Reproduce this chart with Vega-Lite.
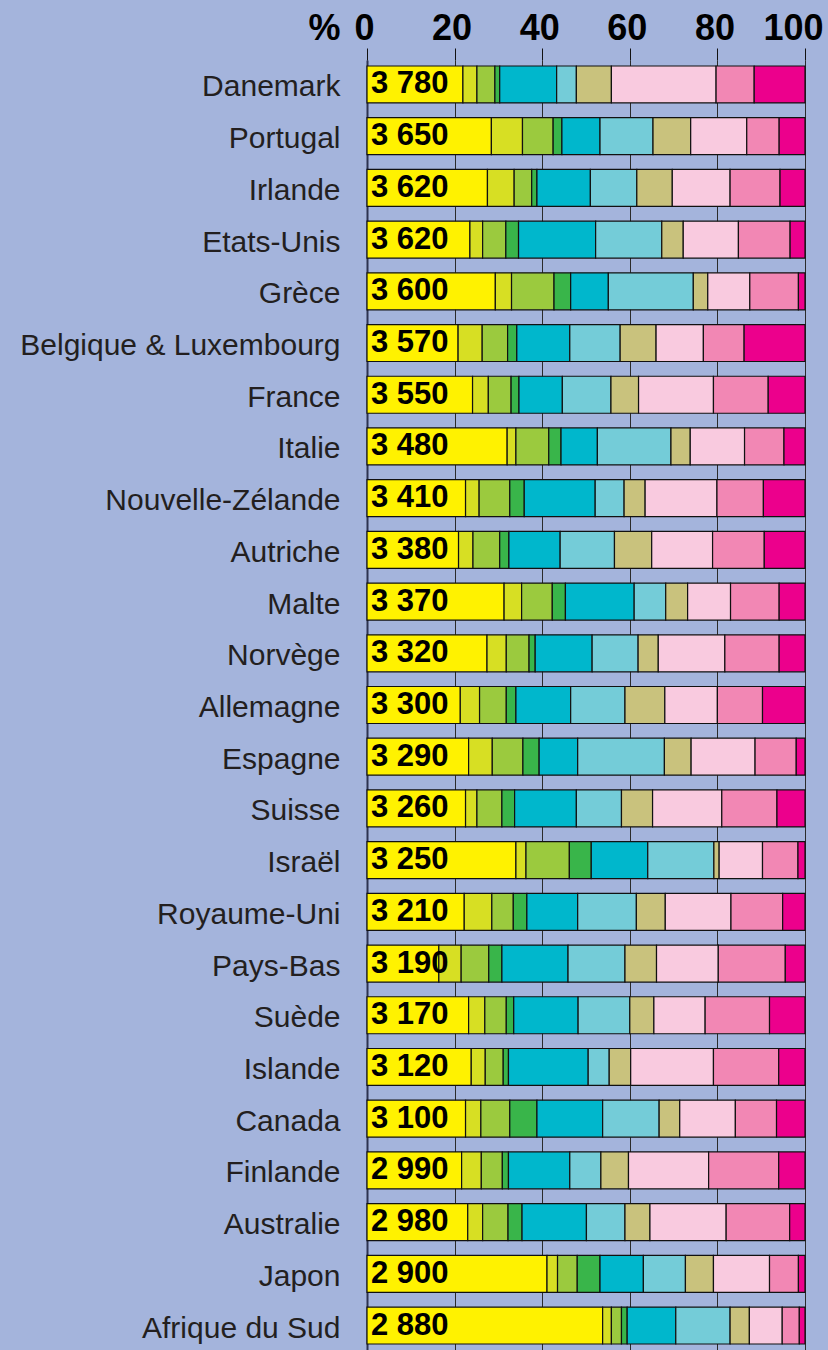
{
  "$schema": "https://vega.github.io/schema/vega-lite/v6.json",
  "width": 438,
  "height": 1290,
  "autosize": {"type": "none"},
  "padding": {"left": 367, "top": 60, "right": 23, "bottom": 0},
  "background": "#a4b4dc",
  "datasets": {
    "seg": [
      {"pays":"Danemark","groupe":"g01","part":21.9},{"pays":"Danemark","groupe":"g02","part":3.2},{"pays":"Danemark","groupe":"g03","part":4.1},{"pays":"Danemark","groupe":"g04","part":1.1},{"pays":"Danemark","groupe":"g05","part":13.0},{"pays":"Danemark","groupe":"g06","part":4.5},{"pays":"Danemark","groupe":"g07","part":8.0},{"pays":"Danemark","groupe":"g08","part":23.9},{"pays":"Danemark","groupe":"g09","part":8.7},{"pays":"Danemark","groupe":"g10","part":11.6},
      {"pays":"Portugal","groupe":"g01","part":28.4},{"pays":"Portugal","groupe":"g02","part":7.1},{"pays":"Portugal","groupe":"g03","part":7.0},{"pays":"Portugal","groupe":"g04","part":2.0},{"pays":"Portugal","groupe":"g05","part":8.7},{"pays":"Portugal","groupe":"g06","part":12.1},{"pays":"Portugal","groupe":"g07","part":8.6},{"pays":"Portugal","groupe":"g08","part":12.8},{"pays":"Portugal","groupe":"g09","part":7.4},{"pays":"Portugal","groupe":"g10","part":5.9},
      {"pays":"Irlande","groupe":"g01","part":27.5},{"pays":"Irlande","groupe":"g02","part":6.1},{"pays":"Irlande","groupe":"g03","part":4.0},{"pays":"Irlande","groupe":"g04","part":1.2},{"pays":"Irlande","groupe":"g05","part":12.2},{"pays":"Irlande","groupe":"g06","part":10.6},{"pays":"Irlande","groupe":"g07","part":8.1},{"pays":"Irlande","groupe":"g08","part":13.2},{"pays":"Irlande","groupe":"g09","part":11.4},{"pays":"Irlande","groupe":"g10","part":5.7},
      {"pays":"Etats-Unis","groupe":"g01","part":23.5},{"pays":"Etats-Unis","groupe":"g02","part":2.9},{"pays":"Etats-Unis","groupe":"g03","part":5.3},{"pays":"Etats-Unis","groupe":"g04","part":2.9},{"pays":"Etats-Unis","groupe":"g05","part":17.6},{"pays":"Etats-Unis","groupe":"g06","part":15.1},{"pays":"Etats-Unis","groupe":"g07","part":4.9},{"pays":"Etats-Unis","groupe":"g08","part":12.6},{"pays":"Etats-Unis","groupe":"g09","part":11.8},{"pays":"Etats-Unis","groupe":"g10","part":3.4},
      {"pays":"Grèce","groupe":"g01","part":29.3},{"pays":"Grèce","groupe":"g02","part":3.7},{"pays":"Grèce","groupe":"g03","part":9.7},{"pays":"Grèce","groupe":"g04","part":3.8},{"pays":"Grèce","groupe":"g05","part":8.6},{"pays":"Grèce","groupe":"g06","part":19.4},{"pays":"Grèce","groupe":"g07","part":3.3},{"pays":"Grèce","groupe":"g08","part":9.6},{"pays":"Grèce","groupe":"g09","part":11.1},{"pays":"Grèce","groupe":"g10","part":1.5},
      {"pays":"Belgique & Luxembourg","groupe":"g01","part":20.8},{"pays":"Belgique & Luxembourg","groupe":"g02","part":5.5},{"pays":"Belgique & Luxembourg","groupe":"g03","part":5.8},{"pays":"Belgique & Luxembourg","groupe":"g04","part":2.1},{"pays":"Belgique & Luxembourg","groupe":"g05","part":12.1},{"pays":"Belgique & Luxembourg","groupe":"g06","part":11.5},{"pays":"Belgique & Luxembourg","groupe":"g07","part":8.2},{"pays":"Belgique & Luxembourg","groupe":"g08","part":10.8},{"pays":"Belgique & Luxembourg","groupe":"g09","part":9.3},{"pays":"Belgique & Luxembourg","groupe":"g10","part":13.9},
      {"pays":"France","groupe":"g01","part":24.1},{"pays":"France","groupe":"g02","part":3.6},{"pays":"France","groupe":"g03","part":5.2},{"pays":"France","groupe":"g04","part":1.8},{"pays":"France","groupe":"g05","part":9.9},{"pays":"France","groupe":"g06","part":11.1},{"pays":"France","groupe":"g07","part":6.3},{"pays":"France","groupe":"g08","part":17.1},{"pays":"France","groupe":"g09","part":12.5},{"pays":"France","groupe":"g10","part":8.4},
      {"pays":"Italie","groupe":"g01","part":32.0},{"pays":"Italie","groupe":"g02","part":2.0},{"pays":"Italie","groupe":"g03","part":7.5},{"pays":"Italie","groupe":"g04","part":2.8},{"pays":"Italie","groupe":"g05","part":8.3},{"pays":"Italie","groupe":"g06","part":16.8},{"pays":"Italie","groupe":"g07","part":4.4},{"pays":"Italie","groupe":"g08","part":12.4},{"pays":"Italie","groupe":"g09","part":9.0},{"pays":"Italie","groupe":"g10","part":4.8},
      {"pays":"Nouvelle-Zélande","groupe":"g01","part":22.5},{"pays":"Nouvelle-Zélande","groupe":"g02","part":3.1},{"pays":"Nouvelle-Zélande","groupe":"g03","part":7.0},{"pays":"Nouvelle-Zélande","groupe":"g04","part":3.3},{"pays":"Nouvelle-Zélande","groupe":"g05","part":16.2},{"pays":"Nouvelle-Zélande","groupe":"g06","part":6.6},{"pays":"Nouvelle-Zélande","groupe":"g07","part":4.8},{"pays":"Nouvelle-Zélande","groupe":"g08","part":16.4},{"pays":"Nouvelle-Zélande","groupe":"g09","part":10.6},{"pays":"Nouvelle-Zélande","groupe":"g10","part":9.5},
      {"pays":"Autriche","groupe":"g01","part":20.9},{"pays":"Autriche","groupe":"g02","part":3.3},{"pays":"Autriche","groupe":"g03","part":6.1},{"pays":"Autriche","groupe":"g04","part":2.1},{"pays":"Autriche","groupe":"g05","part":11.7},{"pays":"Autriche","groupe":"g06","part":12.4},{"pays":"Autriche","groupe":"g07","part":8.5},{"pays":"Autriche","groupe":"g08","part":13.9},{"pays":"Autriche","groupe":"g09","part":11.8},{"pays":"Autriche","groupe":"g10","part":9.3},
      {"pays":"Malte","groupe":"g01","part":31.3},{"pays":"Malte","groupe":"g02","part":4.0},{"pays":"Malte","groupe":"g03","part":7.0},{"pays":"Malte","groupe":"g04","part":3.0},{"pays":"Malte","groupe":"g05","part":15.7},{"pays":"Malte","groupe":"g06","part":7.2},{"pays":"Malte","groupe":"g07","part":5.0},{"pays":"Malte","groupe":"g08","part":9.8},{"pays":"Malte","groupe":"g09","part":11.1},{"pays":"Malte","groupe":"g10","part":5.9},
      {"pays":"Norvège","groupe":"g01","part":27.4},{"pays":"Norvège","groupe":"g02","part":4.4},{"pays":"Norvège","groupe":"g03","part":5.2},{"pays":"Norvège","groupe":"g04","part":1.4},{"pays":"Norvège","groupe":"g05","part":13.0},{"pays":"Norvège","groupe":"g06","part":10.5},{"pays":"Norvège","groupe":"g07","part":4.6},{"pays":"Norvège","groupe":"g08","part":15.2},{"pays":"Norvège","groupe":"g09","part":12.4},{"pays":"Norvège","groupe":"g10","part":5.9},
      {"pays":"Allemagne","groupe":"g01","part":21.3},{"pays":"Allemagne","groupe":"g02","part":4.4},{"pays":"Allemagne","groupe":"g03","part":6.1},{"pays":"Allemagne","groupe":"g04","part":2.2},{"pays":"Allemagne","groupe":"g05","part":12.5},{"pays":"Allemagne","groupe":"g06","part":12.4},{"pays":"Allemagne","groupe":"g07","part":9.1},{"pays":"Allemagne","groupe":"g08","part":12.0},{"pays":"Allemagne","groupe":"g09","part":10.3},{"pays":"Allemagne","groupe":"g10","part":9.7},
      {"pays":"Espagne","groupe":"g01","part":23.2},{"pays":"Espagne","groupe":"g02","part":5.4},{"pays":"Espagne","groupe":"g03","part":7.0},{"pays":"Espagne","groupe":"g04","part":3.7},{"pays":"Espagne","groupe":"g05","part":8.8},{"pays":"Espagne","groupe":"g06","part":19.8},{"pays":"Espagne","groupe":"g07","part":6.1},{"pays":"Espagne","groupe":"g08","part":14.6},{"pays":"Espagne","groupe":"g09","part":9.4},{"pays":"Espagne","groupe":"g10","part":2.0},
      {"pays":"Suisse","groupe":"g01","part":22.5},{"pays":"Suisse","groupe":"g02","part":2.6},{"pays":"Suisse","groupe":"g03","part":5.7},{"pays":"Suisse","groupe":"g04","part":2.9},{"pays":"Suisse","groupe":"g05","part":14.1},{"pays":"Suisse","groupe":"g06","part":10.3},{"pays":"Suisse","groupe":"g07","part":7.1},{"pays":"Suisse","groupe":"g08","part":15.8},{"pays":"Suisse","groupe":"g09","part":12.6},{"pays":"Suisse","groupe":"g10","part":6.4},
      {"pays":"Israël","groupe":"g01","part":34.0},{"pays":"Israël","groupe":"g02","part":2.3},{"pays":"Israël","groupe":"g03","part":9.9},{"pays":"Israël","groupe":"g04","part":5.0},{"pays":"Israël","groupe":"g05","part":12.9},{"pays":"Israël","groupe":"g06","part":15.1},{"pays":"Israël","groupe":"g07","part":1.2},{"pays":"Israël","groupe":"g08","part":9.9},{"pays":"Israël","groupe":"g09","part":8.1},{"pays":"Israël","groupe":"g10","part":1.6},
      {"pays":"Royaume-Uni","groupe":"g01","part":22.2},{"pays":"Royaume-Uni","groupe":"g02","part":6.3},{"pays":"Royaume-Uni","groupe":"g03","part":4.9},{"pays":"Royaume-Uni","groupe":"g04","part":3.1},{"pays":"Royaume-Uni","groupe":"g05","part":11.6},{"pays":"Royaume-Uni","groupe":"g06","part":13.4},{"pays":"Royaume-Uni","groupe":"g07","part":6.6},{"pays":"Royaume-Uni","groupe":"g08","part":15.0},{"pays":"Royaume-Uni","groupe":"g09","part":11.8},{"pays":"Royaume-Uni","groupe":"g10","part":5.1},
      {"pays":"Pays-Bas","groupe":"g01","part":16.4},{"pays":"Pays-Bas","groupe":"g02","part":5.1},{"pays":"Pays-Bas","groupe":"g03","part":6.3},{"pays":"Pays-Bas","groupe":"g04","part":3.0},{"pays":"Pays-Bas","groupe":"g05","part":15.1},{"pays":"Pays-Bas","groupe":"g06","part":13.0},{"pays":"Pays-Bas","groupe":"g07","part":7.2},{"pays":"Pays-Bas","groupe":"g08","part":14.1},{"pays":"Pays-Bas","groupe":"g09","part":15.3},{"pays":"Pays-Bas","groupe":"g10","part":4.5},
      {"pays":"Suède","groupe":"g01","part":23.2},{"pays":"Suède","groupe":"g02","part":3.7},{"pays":"Suède","groupe":"g03","part":4.9},{"pays":"Suède","groupe":"g04","part":1.7},{"pays":"Suède","groupe":"g05","part":14.7},{"pays":"Suède","groupe":"g06","part":11.8},{"pays":"Suède","groupe":"g07","part":5.5},{"pays":"Suède","groupe":"g08","part":11.7},{"pays":"Suède","groupe":"g09","part":14.7},{"pays":"Suède","groupe":"g10","part":8.1},
      {"pays":"Islande","groupe":"g01","part":23.8},{"pays":"Islande","groupe":"g02","part":3.2},{"pays":"Islande","groupe":"g03","part":4.1},{"pays":"Islande","groupe":"g04","part":1.2},{"pays":"Islande","groupe":"g05","part":18.2},{"pays":"Islande","groupe":"g06","part":4.8},{"pays":"Islande","groupe":"g07","part":4.9},{"pays":"Islande","groupe":"g08","part":18.9},{"pays":"Islande","groupe":"g09","part":14.9},{"pays":"Islande","groupe":"g10","part":6.0},
      {"pays":"Canada","groupe":"g01","part":22.5},{"pays":"Canada","groupe":"g02","part":3.5},{"pays":"Canada","groupe":"g03","part":6.6},{"pays":"Canada","groupe":"g04","part":6.2},{"pays":"Canada","groupe":"g05","part":15.0},{"pays":"Canada","groupe":"g06","part":12.9},{"pays":"Canada","groupe":"g07","part":4.7},{"pays":"Canada","groupe":"g08","part":12.7},{"pays":"Canada","groupe":"g09","part":9.4},{"pays":"Canada","groupe":"g10","part":6.5},
      {"pays":"Finlande","groupe":"g01","part":21.6},{"pays":"Finlande","groupe":"g02","part":4.5},{"pays":"Finlande","groupe":"g03","part":4.8},{"pays":"Finlande","groupe":"g04","part":1.4},{"pays":"Finlande","groupe":"g05","part":14.0},{"pays":"Finlande","groupe":"g06","part":7.1},{"pays":"Finlande","groupe":"g07","part":6.3},{"pays":"Finlande","groupe":"g08","part":18.3},{"pays":"Finlande","groupe":"g09","part":16.0},{"pays":"Finlande","groupe":"g10","part":6.0},
      {"pays":"Australie","groupe":"g01","part":23.0},{"pays":"Australie","groupe":"g02","part":3.4},{"pays":"Australie","groupe":"g03","part":5.8},{"pays":"Australie","groupe":"g04","part":3.2},{"pays":"Australie","groupe":"g05","part":14.7},{"pays":"Australie","groupe":"g06","part":8.8},{"pays":"Australie","groupe":"g07","part":5.7},{"pays":"Australie","groupe":"g08","part":17.4},{"pays":"Australie","groupe":"g09","part":14.5},{"pays":"Australie","groupe":"g10","part":3.5},
      {"pays":"Japon","groupe":"g01","part":41.1},{"pays":"Japon","groupe":"g02","part":2.4},{"pays":"Japon","groupe":"g03","part":4.5},{"pays":"Japon","groupe":"g04","part":5.2},{"pays":"Japon","groupe":"g05","part":9.9},{"pays":"Japon","groupe":"g06","part":9.6},{"pays":"Japon","groupe":"g07","part":6.4},{"pays":"Japon","groupe":"g08","part":12.8},{"pays":"Japon","groupe":"g09","part":6.6},{"pays":"Japon","groupe":"g10","part":1.5},
      {"pays":"Afrique du Sud","groupe":"g01","part":53.8},{"pays":"Afrique du Sud","groupe":"g02","part":2.0},{"pays":"Afrique du Sud","groupe":"g03","part":2.3},{"pays":"Afrique du Sud","groupe":"g04","part":1.3},{"pays":"Afrique du Sud","groupe":"g05","part":11.1},{"pays":"Afrique du Sud","groupe":"g06","part":12.4},{"pays":"Afrique du Sud","groupe":"g07","part":4.4},{"pays":"Afrique du Sud","groupe":"g08","part":7.5},{"pays":"Afrique du Sud","groupe":"g09","part":3.9},{"pays":"Afrique du Sud","groupe":"g10","part":1.3}
    ],
    "totaux": [
      {"pays":"Danemark","kcal":"3 780"},
      {"pays":"Portugal","kcal":"3 650"},
      {"pays":"Irlande","kcal":"3 620"},
      {"pays":"Etats-Unis","kcal":"3 620"},
      {"pays":"Grèce","kcal":"3 600"},
      {"pays":"Belgique & Luxembourg","kcal":"3 570"},
      {"pays":"France","kcal":"3 550"},
      {"pays":"Italie","kcal":"3 480"},
      {"pays":"Nouvelle-Zélande","kcal":"3 410"},
      {"pays":"Autriche","kcal":"3 380"},
      {"pays":"Malte","kcal":"3 370"},
      {"pays":"Norvège","kcal":"3 320"},
      {"pays":"Allemagne","kcal":"3 300"},
      {"pays":"Espagne","kcal":"3 290"},
      {"pays":"Suisse","kcal":"3 260"},
      {"pays":"Israël","kcal":"3 250"},
      {"pays":"Royaume-Uni","kcal":"3 210"},
      {"pays":"Pays-Bas","kcal":"3 190"},
      {"pays":"Suède","kcal":"3 170"},
      {"pays":"Islande","kcal":"3 120"},
      {"pays":"Canada","kcal":"3 100"},
      {"pays":"Finlande","kcal":"2 990"},
      {"pays":"Australie","kcal":"2 980"},
      {"pays":"Japon","kcal":"2 900"},
      {"pays":"Afrique du Sud","kcal":"2 880"}
    ]
  },
  "encoding": {
    "y": {
      "field": "pays",
      "type": "nominal",
      "sort": ["Danemark","Portugal","Irlande","Etats-Unis","Grèce","Belgique & Luxembourg","France","Italie","Nouvelle-Zélande","Autriche","Malte","Norvège","Allemagne","Espagne","Suisse","Israël","Royaume-Uni","Pays-Bas","Suède","Islande","Canada","Finlande","Australie","Japon","Afrique du Sud"],
      "scale": {"paddingInner": 0.285, "paddingOuter": 0.116},
      "axis": {
        "title": null,
        "ticks": false,
        "tickSize": 0,
        "domain": true,
        "domainColor": "#2d3350",
        "domainWidth": 2,
        "labelFont": "Liberation Sans",
        "labelFontSize": 30,
        "labelColor": "#231f20",
        "labelPadding": 27,
        "labelOffset": 3,
        "labelLimit": 400
      }
    }
  },
  "layer": [
    {
      "data": {"name": "seg"},
      "mark": {"type": "bar", "stroke": "#111111", "strokeWidth": 1.2},
      "encoding": {
        "x": {
          "field": "part",
          "type": "quantitative",
          "stack": "zero",
          "scale": {"domain": [0, 100], "nice": false},
          "axis": {
            "orient": "top",
            "values": [0, 20, 40, 60, 80, 100],
            "title": "%",
            "titleFont": "Liberation Sans",
            "titleFontWeight": "bold",
            "titleFontSize": 36,
            "titleColor": "#000000",
            "titleX": -43,
            "titleY": -21,
            "titleAlign": "center",
            "titleBaseline": "alphabetic",
            "titleAngle": 0,
            "domain": false,
            "grid": true,
            "gridColor": "#2b2b2b",
            "gridWidth": 1,
            "ticks": true,
            "tickSize": 12,
            "tickColor": "#111111",
            "tickWidth": 1,
            "labelFont": "Liberation Sans",
            "labelFontWeight": "bold",
            "labelFontSize": 36,
            "labelColor": "#000000",
            "labelBaseline": "alphabetic",
            "labelPadding": 9,
            "labelFlush": false,
            "labelOverlap": false,
            "labelOffset": {"expr": "datum.value == 100 ? -12 : -3"}
          }
        },
        "color": {
          "field": "groupe",
          "type": "nominal",
          "scale": {
            "domain": ["g01","g02","g03","g04","g05","g06","g07","g08","g09","g10"],
            "range": ["#fff200","#d7df23","#9bca3e","#39b54a","#00b7cc","#74ccd8","#c9c27d","#f9cadf","#f287b4","#ec008c"]
          },
          "legend": null
        },
        "order": {"field": "groupe", "type": "ordinal"}
      }
    },
    {
      "data": {"name": "totaux"},
      "mark": {"type": "text", "align": "left", "baseline": "middle", "dx": 4, "font": "Liberation Sans", "fontWeight": "bold", "fontSize": 31, "color": "#000000"},
      "encoding": {
        "x": {"datum": 0, "type": "quantitative"},
        "text": {"field": "kcal", "type": "nominal"}
      }
    }
  ],
  "config": {"view": {"stroke": null}}
}
